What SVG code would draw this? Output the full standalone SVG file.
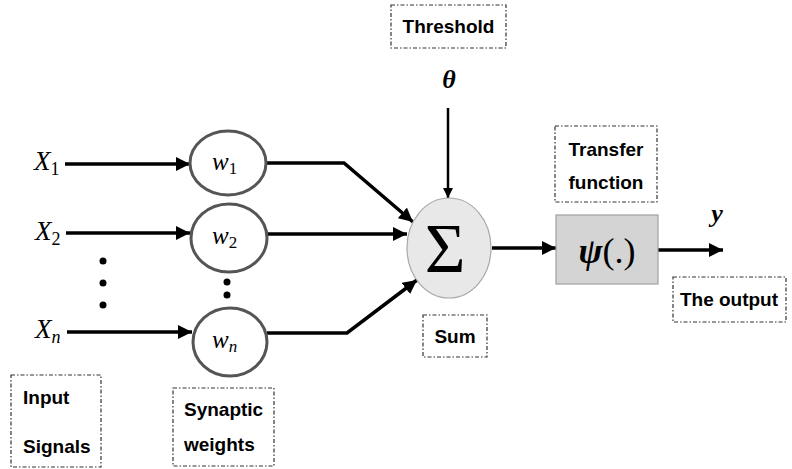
<svg xmlns="http://www.w3.org/2000/svg" width="792" height="469" viewBox="0 0 792 469">
<defs>
<marker id="ah" viewBox="0 0 10 10" refX="10" refY="5" markerWidth="4" markerHeight="4" markerUnits="strokeWidth" orient="auto">
<path d="M0,0 L10,5 L0,10 z" fill="#000"/>
</marker>
<marker id="ah2" viewBox="0 0 10 10" refX="10" refY="5" markerWidth="5" markerHeight="5" markerUnits="strokeWidth" orient="auto">
<path d="M0,0 L10,5 L0,10 z" fill="#000"/>
</marker>
</defs>
<style>
.lbl{font-family:"Liberation Sans",Arial,sans-serif;font-weight:bold;font-size:19px;fill:#000}
.math{font-family:"Liberation Serif","Times New Roman",serif;font-style:italic;fill:#000}
.up{font-style:normal}
.box{fill:none;stroke:#333;stroke-width:1.2;stroke-dasharray:4 2 1.5 2}
.wc{fill:#fff;stroke:#555;stroke-width:3}
.conn{fill:none;stroke:#000;stroke-width:3.5;marker-end:url(#ah)}
.dot{fill:#000}
</style>
<rect width="792" height="469" fill="#fff"/>

<g id="connectors">
<line class="conn" x1="65" y1="164" x2="190" y2="164"/>
<line class="conn" x1="66" y1="233" x2="190" y2="233"/>
<line class="conn" x1="67" y1="332" x2="192" y2="332"/>
<polyline class="conn" points="267,163 344,163 413,222"/>
<line class="conn" x1="268" y1="234" x2="407" y2="234"/>
<polyline class="conn" points="267,333 347,333 417,280"/>
<line class="conn" x1="448" y1="108" x2="448" y2="198" style="stroke-width:2.5" marker-end="url(#ah2)"/>
<line class="conn" x1="492" y1="248" x2="556" y2="248"/>
<line class="conn" x1="658" y1="250" x2="723" y2="250"/>
</g>

<g id="input-x1"><text class="math" x="34" y="170" font-size="27">X<tspan class="up" font-size="18" dy="5">1</tspan></text></g>
<g id="input-x2"><text class="math" x="35" y="240" font-size="27">X<tspan class="up" font-size="18" dy="5">2</tspan></text></g>
<g id="input-xn"><text class="math" x="35" y="338" font-size="27">X<tspan font-size="18" dy="5">n</tspan></text></g>

<g id="dots-inputs">
<circle class="dot" cx="103" cy="261" r="3.5"/>
<circle class="dot" cx="103" cy="283" r="3.5"/>
<circle class="dot" cx="103" cy="305" r="3.5"/>
</g>
<g id="dots-weights">
<circle class="dot" cx="227" cy="282" r="3.5"/>
<circle class="dot" cx="227" cy="295" r="3.5"/>
</g>

<g id="w1">
<ellipse class="wc" cx="228" cy="163" rx="38" ry="32"/>
<text class="math" x="212" y="170" font-size="25">w<tspan class="up" font-size="17" dy="4">1</tspan></text>
</g>
<g id="w2">
<ellipse class="wc" cx="229" cy="238" rx="38" ry="34"/>
<text class="math" x="212" y="244" font-size="25">w<tspan class="up" font-size="17" dy="4">2</tspan></text>
</g>
<g id="wn">
<ellipse class="wc" cx="230" cy="342" rx="37" ry="34"/>
<text class="math" x="212" y="348" font-size="25">w<tspan font-size="17" dy="4">n</tspan></text>
</g>

<g id="threshold">
<rect class="box" x="391" y="5" width="115" height="43"/>
<text class="lbl" x="448.5" y="33" text-anchor="middle">Threshold</text>
</g>
<g id="theta"><text class="math" x="449" y="88" font-size="26" font-weight="bold" text-anchor="middle">θ</text></g>

<g id="sum">
<ellipse cx="449" cy="248" rx="42" ry="50" fill="#e8e8e8" stroke="#a8a8a8" stroke-width="1.2"/>
<text x="445" y="272" font-family="'Liberation Serif','Times New Roman',serif" font-size="70" text-anchor="middle" fill="#000">Σ</text>
</g>
<g id="sum-label">
<rect class="box" x="423" y="315" width="64" height="42"/>
<text class="lbl" x="455" y="343" text-anchor="middle">Sum</text>
</g>

<g id="transfer">
<rect x="556" y="215" width="102" height="69" fill="#d4d4d4" stroke="#a0a0a0" stroke-width="1.2"/>
<text class="math" x="607" y="263" font-size="36" text-anchor="middle"><tspan font-weight="bold">ψ</tspan><tspan font-style="normal">(.)</tspan></text>
</g>
<g id="transfer-label">
<rect class="box" x="555" y="126" width="102" height="76"/>
<text class="lbl" x="606" y="156" text-anchor="middle">Transfer</text>
<text class="lbl" x="606" y="189" text-anchor="middle">function</text>
</g>

<g id="output-y"><text class="math" x="717" y="222" font-size="26" font-weight="bold" text-anchor="middle">y</text></g>
<g id="output-label">
<rect class="box" x="673" y="277" width="113" height="45"/>
<text class="lbl" x="729" y="306" text-anchor="middle">The output</text>
</g>

<g id="input-label">
<rect class="box" x="11" y="375" width="90" height="92"/>
<text class="lbl" x="23" y="404">Input</text>
<text class="lbl" x="23" y="453">Signals</text>
</g>
<g id="weights-label">
<rect class="box" x="173" y="388" width="101" height="78"/>
<text class="lbl" x="184" y="416">Synaptic</text>
<text class="lbl" x="184" y="451">weights</text>
</g>
</svg>
